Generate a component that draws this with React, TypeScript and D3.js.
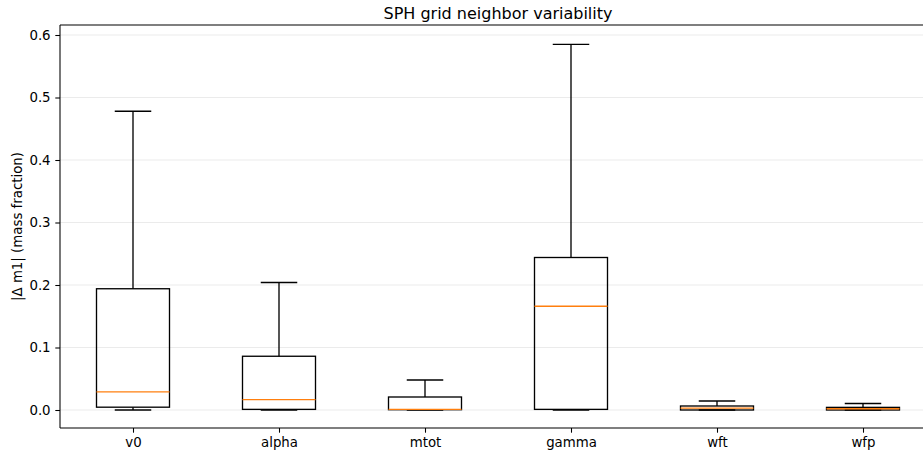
import React, { useRef, useEffect } from "react";
import * as d3 from "d3";

const categories = ["v0", "alpha", "mtot", "gamma", "wft", "wfp"];
const whiskerLow = [0.0, 0.0, 0.0, 0.0, 0.0, 0.0];
const q1 = [0.0045, 0.001, 0.0005, 0.001, 0.0, 0.0];
const median = [0.029, 0.0165, 0.001, 0.166, 0.003, 0.002];
const q3 = [0.194, 0.086, 0.0208, 0.244, 0.0064, 0.0042];
const whiskerHigh = [0.478, 0.204, 0.048, 0.585, 0.0144, 0.0104];
const yTicks = [0.0, 0.1, 0.2, 0.3, 0.4, 0.5, 0.6];

function App() {
  const svgRef = useRef<SVGSVGElement>(null);

  useEffect(() => {
    const w = 923;
    const h = 452;
    const m = { left: 60, top: 25, right: 936, bottom: 428 };
    const svg = d3.select(svgRef.current).attr("width", w).attr("height", h);
    svg.selectAll("*").remove();

    const x = d3.scaleLinear().domain([0.5, 6.5]).range([m.left, m.right]);
    const y = d3.scaleLinear().domain([-0.0288, 0.616]).range([m.bottom, m.top]);
    const font = "DejaVu Sans, sans-serif";
    const lw = 1.33;

    // grid
    svg
      .append("g")
      .selectAll("line")
      .data(yTicks)
      .join("line")
      .attr("x1", m.left)
      .attr("x2", m.right)
      .attr("y1", (d) => y(d))
      .attr("y2", (d) => y(d))
      .attr("stroke", "#ebebeb")
      .attr("stroke-width", 1.2);

    const boxes = svg
      .append("g")
      .selectAll("g")
      .data(categories.map((c, i) => i))
      .join("g")
      .attr("fill", "none")
      .attr("stroke-width", lw);

    const bw = x(1.25) - x(1);
    const cw = x(1.125) - x(1);
    boxes.each(function (i) {
      const g = d3.select(this);
      const cx = x(i + 1);
      // whiskers
      g.append("line").attr("x1", cx).attr("x2", cx).attr("y1", y(q3[i])).attr("y2", y(whiskerHigh[i])).attr("stroke", "#000");
      g.append("line").attr("x1", cx).attr("x2", cx).attr("y1", y(q1[i])).attr("y2", y(whiskerLow[i])).attr("stroke", "#000");
      g.append("line").attr("x1", cx - cw).attr("x2", cx + cw).attr("y1", y(whiskerHigh[i])).attr("y2", y(whiskerHigh[i])).attr("stroke", "#000");
      g.append("line").attr("x1", cx - cw).attr("x2", cx + cw).attr("y1", y(whiskerLow[i])).attr("y2", y(whiskerLow[i])).attr("stroke", "#000");
      // box
      g.append("rect")
        .attr("x", cx - bw)
        .attr("width", 2 * bw)
        .attr("y", y(q3[i]))
        .attr("height", y(q1[i]) - y(q3[i]))
        .attr("stroke", "#000")
        .attr("fill", "none");
      g.append("line").attr("x1", cx - bw).attr("x2", cx + bw).attr("y1", y(median[i])).attr("y2", y(median[i])).attr("stroke", "#ff7f0e");
    });

    // axes
    const yAxis = d3.axisLeft(y).tickValues(yTicks).tickFormat(d3.format(".1f")).tickSize(4.7).tickPadding(4.7);
    const gy = svg.append("g").attr("transform", `translate(${m.left},0)`).call(yAxis);
    gy.select(".domain").remove();
    gy.selectAll("line").attr("stroke-width", 1.07);
    gy.selectAll("text").attr("font-family", font).attr("font-size", 13.33).attr("fill", "#000");

    const xAxis = d3
      .axisBottom(x)
      .tickValues(categories.map((c, i) => i + 1))
      .tickFormat((d) => categories[(d as number) - 1])
      .tickSize(4.7)
      .tickPadding(4.7);
    const gx = svg.append("g").attr("transform", `translate(0,${m.bottom})`).call(xAxis);
    gx.select(".domain").remove();
    gx.selectAll("line").attr("stroke-width", 1.07);
    gx.selectAll("text").attr("font-family", font).attr("font-size", 13.33).attr("fill", "#000");

    // spines
    const spine = (x1: number, y1: number, x2: number, y2: number) =>
      svg.append("line").attr("x1", x1).attr("x2", x2).attr("y1", y1).attr("y2", y2).attr("stroke", "#000").attr("stroke-width", 1.07);
    spine(m.left, m.top, m.left, m.bottom);
    spine(m.left, m.bottom, m.right, m.bottom);
    spine(m.left, m.top, m.right, m.top);

    svg
      .append("text")
      .attr("x", (m.left + m.right) / 2)
      .attr("y", 19)
      .attr("text-anchor", "middle")
      .attr("font-family", font)
      .attr("font-size", 16)
      .text("SPH grid neighbor variability");

    svg
      .append("text")
      .attr("transform", `translate(22,${(m.top + m.bottom) / 2}) rotate(-90)`)
      .attr("text-anchor", "middle")
      .attr("font-family", font)
      .attr("font-size", 13.33)
      .text("|Δ m1| (mass fraction)");
  }, []);

  return <svg ref={svgRef} style={{ display: "block", position: "absolute", left: 0, top: 0 }}></svg>;
}

export default App;
